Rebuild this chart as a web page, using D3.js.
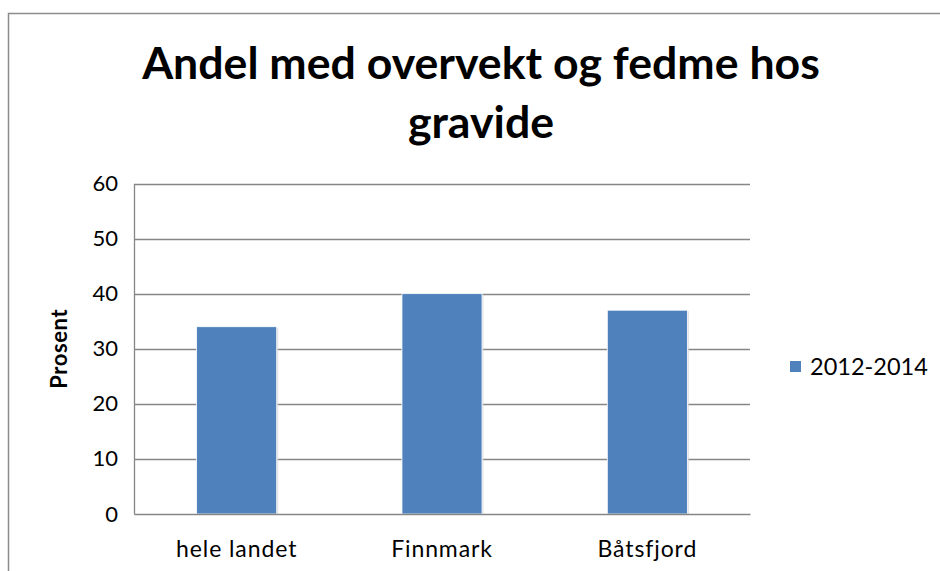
<!DOCTYPE html>
<html>
<head>
<meta charset="utf-8">
<script src="https://cdn.jsdelivr.net/npm/d3@7"></script>
<style>
  body { margin: 0; background: #fff; }
  text { font-family: Lato, "Open Sans", sans-serif; fill: #000; }
</style>
</head>
<body>
<div id="chart"></div>
<script>
// chart data
const categories = ["hele landet", "Finnmark", "Båtsfjord"];
const values = [34, 40, 37];
const seriesName = "2012-2014";
const yTicks = [0, 10, 20, 30, 40, 50, 60];
const titleLines = ["Andel med overvekt og fedme hos", "gravide"];

let width = 940, height = 571;
let plot = {left: 134, right: 750, top: 183.5, bottom: 514};

let svg = d3.select("#chart")
    .append("svg")
    .attr("width", width)
    .attr("height", height);

// outer frame
svg.append("rect")
    .attr("x", 8.5)
    .attr("y", 13.5)
    .attr("width", 960)
    .attr("height", 600)
    .attr("fill", "none")
    .attr("stroke", "#8c8c8c")
    .attr("stroke-width", 1.5);

// title, two lines
let title = svg.append("g");
titleLines.forEach((t, i) => {
    title.append("text")
        .attr("x", 481)
        .attr("y", 79 + i * 59)
        .attr("text-anchor", "middle")
        .style("font-weight", "bold")
        .style("font-size", "40px")
        .text(t);
});
// fit first line to the width of the original
let first = title.select("text").node();
let fs = 40 * 678 / first.getComputedTextLength();
title.selectAll("text").style("font-size", fs + "px");

// scales
let x = d3.scaleBand()
    .domain(categories)
    .range([plot.left, plot.right])
    .paddingInner(0.61)
    .paddingOuter(0.305);

let y = d3.scaleLinear()
    .domain([0, 60])
    .range([plot.bottom, plot.top]);

// gridlines
svg.append("g")
    .selectAll("line")
    .data(yTicks.slice(1))
    .enter()
    .append("line")
    .attr("x1", plot.left)
    .attr("x2", plot.right)
    .attr("y1", d => Math.round(y(d)) + 0.5)
    .attr("y2", d => Math.round(y(d)) + 0.5)
    .attr("stroke", "#868686")
    .attr("stroke-width", 1.3);

// y axis
let yAxis = svg.append("g")
    .attr("transform", `translate(${plot.left},0)`)
    .call(d3.axisLeft(y).tickValues(yTicks).tickSize(0).tickPadding(16));
yAxis.select(".domain").attr("stroke", "#868686").attr("stroke-width", 1.3);
yAxis.selectAll("text")
    .style("font-family", "Lato, sans-serif")
    .style("font-size", "22px")
    .attr("fill", "#000");

// bar shadows
svg.append("g")
    .selectAll("rect")
    .data(values)
    .enter()
    .append("rect")
    .attr("x", (d, i) => x(categories[i]) + 1.5)
    .attr("y", d => y(d) + 1)
    .attr("width", x.bandwidth())
    .attr("height", d => y(0) - y(d) - 1)
    .attr("fill", "#d6d6d6")
    .attr("opacity", 0.7);

// bars
svg.append("g")
    .selectAll("rect")
    .data(values)
    .enter()
    .append("rect")
    .attr("x", (d, i) => x(categories[i]))
    .attr("y", d => y(d))
    .attr("width", x.bandwidth())
    .attr("height", d => y(0) - y(d))
    .attr("fill", "#4f81bd")
    .attr("stroke", "#ffffff")
    .attr("stroke-width", 0.8);

// x axis
let xAxis = svg.append("g")
    .attr("transform", `translate(0,${plot.bottom})`)
    .call(d3.axisBottom(x).tickSize(0).tickPadding(27));
xAxis.select(".domain").attr("stroke", "#868686").attr("stroke-width", 1.3);
xAxis.selectAll("text")
    .style("font-family", "Lato, sans-serif")
    .style("font-size", "23px")
    .style("letter-spacing", "0.9px")
    .attr("fill", "#000");

// y axis label
svg.append("text")
    .attr("transform", `translate(67, ${(plot.top + plot.bottom) / 2}) rotate(-90)`)
    .attr("text-anchor", "middle")
    .style("font-weight", "bold")
    .style("font-size", "22px")
    .style("letter-spacing", "0.6px")
    .text("Prosent");

// legend
let legend = svg.append("g")
    .attr("transform", "translate(790,361)");
legend.append("rect")
    .attr("width", 11)
    .attr("height", 11)
    .attr("fill", "#4f81bd");
legend.append("text")
    .attr("x", 20)
    .attr("y", 14)
    .style("font-size", "23.5px")
    .text(seriesName);
</script>
</body>
</html>
